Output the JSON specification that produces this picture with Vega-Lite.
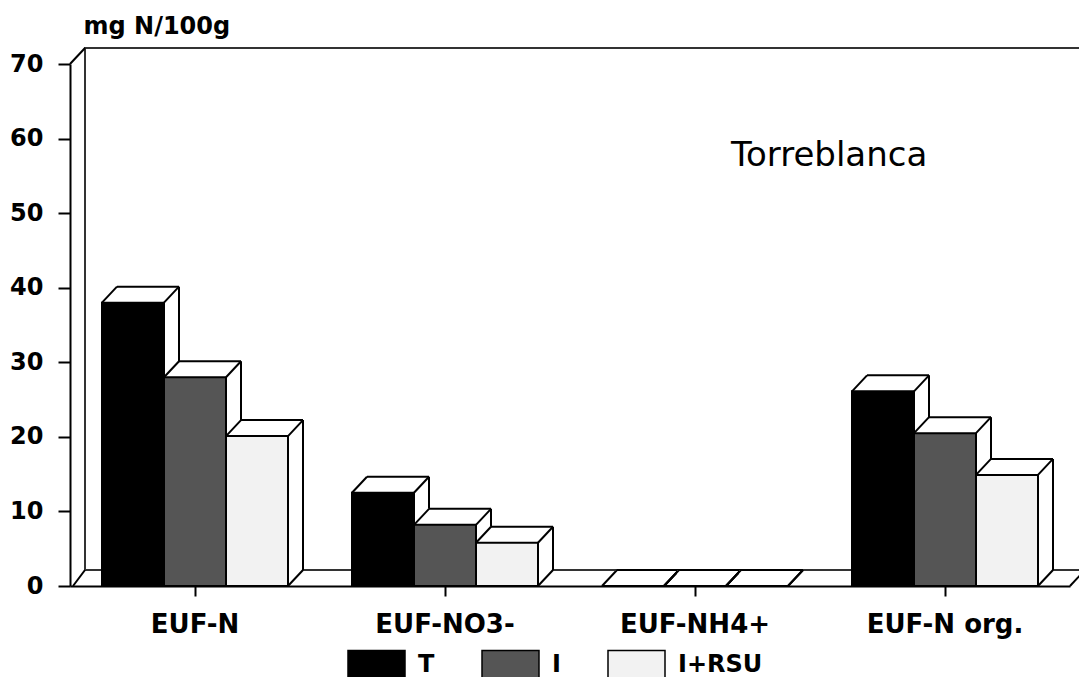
{
  "$schema": "https://vega.github.io/schema/vega-lite/v6.json",
  "width": 1000,
  "height": 522,
  "autosize": {"type": "none"},
  "padding": {"left": 70, "top": 64, "right": 9, "bottom": 91},
  "background": "white",
  "config": {"view": {"stroke": null}, "font": "DejaVu Sans"},
  "datasets": {
    "bars": [
      {"cat": "EUF-N", "s": "T", "v": 38},
      {"cat": "EUF-N", "s": "I", "v": 28},
      {"cat": "EUF-N", "s": "I+RSU", "v": 20.1},
      {"cat": "EUF-NO3-", "s": "T", "v": 12.5},
      {"cat": "EUF-NO3-", "s": "I", "v": 8.2},
      {"cat": "EUF-NO3-", "s": "I+RSU", "v": 5.8},
      {"cat": "EUF-NH4+", "s": "T", "v": 0},
      {"cat": "EUF-NH4+", "s": "I", "v": 0},
      {"cat": "EUF-NH4+", "s": "I+RSU", "v": 0},
      {"cat": "EUF-N org.", "s": "T", "v": 26.1},
      {"cat": "EUF-N org.", "s": "I", "v": 20.5},
      {"cat": "EUF-N org.", "s": "I+RSU", "v": 14.9}
    ],
    "one": [{"label": "Torreblanca"}]
  },
  "layer": [
    {
      "data": {"name": "one"},
      "mark": {"type": "rect", "fill": "white", "stroke": "#333333", "strokeWidth": 2, "xOffset": -110, "x2Offset": 140, "yOffset": -16, "y2Offset": -16},
      "encoding": {
        "x": {"datum": "EUF-N", "type": "nominal", "bandPosition": 0.5},
        "x2": {"datum": "EUF-N org."},
        "y": {"datum": 70, "type": "quantitative"},
        "y2": {"datum": 0}
      }
    },
    {
      "data": {"name": "one"},
      "mark": {"type": "rule", "stroke": "black", "strokeWidth": 2, "xOffset": -122, "x2Offset": -110, "y2Offset": -16},
      "encoding": {
        "x": {"datum": "EUF-N", "type": "nominal"},
        "x2": {"datum": "EUF-N"},
        "y": {"datum": 0, "type": "quantitative"},
        "y2": {"datum": 0}
      }
    },
    {
      "data": {"name": "one"},
      "mark": {"type": "rule", "stroke": "black", "strokeWidth": 2, "xOffset": -125, "x2Offset": -110, "y2Offset": -16},
      "encoding": {
        "x": {"datum": "EUF-N", "type": "nominal"},
        "x2": {"datum": "EUF-N"},
        "y": {"datum": 70, "type": "quantitative"},
        "y2": {"datum": 70}
      }
    },
    {
      "data": {"name": "one"},
      "mark": {"type": "rule", "stroke": "black", "strokeWidth": 2, "xOffset": 125, "x2Offset": 140, "y2Offset": -16},
      "encoding": {
        "x": {"datum": "EUF-N org.", "type": "nominal"},
        "x2": {"datum": "EUF-N org."},
        "y": {"datum": 0, "type": "quantitative"},
        "y2": {"datum": 0}
      }
    },
    {
      "data": {"name": "bars"},
      "encoding": {
        "x": {
          "field": "cat", "type": "nominal",
          "scale": {"domain": ["EUF-N", "EUF-NO3-", "EUF-NH4+", "EUF-N org."], "paddingInner": 0, "paddingOuter": 0},
          "axis": {"title": null, "labelAngle": 0, "labelAlign": "center", "labelBaseline": "top", "labelFont": "DejaVu Sans", "labelFontSize": 26, "labelFontWeight": "bold", "labelColor": "black", "labelPadding": 15, "tickSize": 10, "tickWidth": 2, "tickColor": "black", "domainColor": "black", "domainWidth": 2, "grid": false}
        },
        "y": {
          "field": "v", "type": "quantitative", "stack": null,
          "scale": {"domain": [0, 70], "nice": false},
          "axis": {"values": [0, 10, 20, 30, 40, 50, 60, 70], "grid": false, "tickSize": 12, "tickWidth": 2, "tickColor": "black", "domainColor": "black", "domainWidth": 2, "labelFont": "DejaVu Sans", "labelFontSize": 24, "labelFontWeight": "bold", "labelColor": "black", "labelPadding": 15, "title": "mg N/100g", "titleAngle": 0, "titleX": 13, "titleY": -31, "titleAlign": "left", "titleBaseline": "alphabetic", "titleFont": "DejaVu Sans", "titleFontSize": 24, "titleFontWeight": "bold", "titleColor": "black"}
        }
      },
      "layer": [
        {"transform": [{"filter": "datum.s === 'T'"}], "mark": {"type": "bar", "width": 64, "xOffset": -48, "yOffset": -16, "y2Offset": -15, "fill": "white"}},
        {"transform": [{"filter": "datum.s === 'T'"}], "mark": {"type": "bar", "width": 62, "xOffset": -62, "stroke": "black", "strokeWidth": 2},
          "encoding": {"fill": {"field": "s", "type": "nominal",
            "scale": {"domain": ["T", "I", "I+RSU"], "range": ["#000000", "#555555", "#f2f2f2"]},
            "legend": {"title": null, "orient": "none", "legendX": 277, "legendY": 571, "direction": "horizontal", "symbolType": "M-1,-0.5H1V0.5H-1Z", "symbolSize": 3249, "symbolStrokeColor": "black", "symbolStrokeWidth": 1.5, "labelFont": "DejaVu Sans", "labelFontSize": 24, "labelFontWeight": "bold", "labelColor": "black", "labelOffset": 12, "columnPadding": 44, "padding": 0}}}},
        {"transform": [{"filter": "datum.s === 'T'"}], "mark": {"type": "rule", "stroke": "black", "strokeWidth": 2, "xOffset": -78, "x2Offset": -16, "yOffset": -16}, "encoding": {"x2": {"field": "cat"}}},
        {"transform": [{"filter": "datum.s === 'T'"}], "mark": {"type": "rule", "stroke": "black", "strokeWidth": 2, "xOffset": -16, "yOffset": -16, "y2Offset": -16}, "encoding": {"y2": {"datum": 0}}},
        {"transform": [{"filter": "datum.s === 'T'"}], "mark": {"type": "rule", "stroke": "black", "strokeWidth": 2, "xOffset": -93, "x2Offset": -78, "y2Offset": -16}, "encoding": {"x2": {"field": "cat"}, "y2": {"field": "v"}}},
        {"transform": [{"filter": "datum.s === 'T'"}], "mark": {"type": "rule", "stroke": "black", "strokeWidth": 2, "xOffset": -31, "x2Offset": -16, "y2Offset": -16}, "encoding": {"x2": {"field": "cat"}, "y2": {"field": "v"}}},
        {"transform": [{"filter": "datum.s === 'T'"}], "mark": {"type": "rule", "stroke": "black", "strokeWidth": 2, "xOffset": -31, "x2Offset": -16, "y2Offset": -16}, "encoding": {"x2": {"field": "cat"}, "y": {"datum": 0, "type": "quantitative"}, "y2": {"datum": 0}}},

        {"transform": [{"filter": "datum.s === 'I'"}], "mark": {"type": "bar", "width": 64, "xOffset": 14, "yOffset": -16, "y2Offset": -15, "fill": "white"}},
        {"transform": [{"filter": "datum.s === 'I'"}], "mark": {"type": "bar", "width": 62, "xOffset": 0, "stroke": "black", "strokeWidth": 2},
          "encoding": {"fill": {"field": "s", "type": "nominal"}}},
        {"transform": [{"filter": "datum.s === 'I'"}], "mark": {"type": "rule", "stroke": "black", "strokeWidth": 2, "xOffset": -16, "x2Offset": 46, "yOffset": -16}, "encoding": {"x2": {"field": "cat"}}},
        {"transform": [{"filter": "datum.s === 'I'"}], "mark": {"type": "rule", "stroke": "black", "strokeWidth": 2, "xOffset": 46, "yOffset": -16, "y2Offset": -16}, "encoding": {"y2": {"datum": 0}}},
        {"transform": [{"filter": "datum.s === 'I'"}], "mark": {"type": "rule", "stroke": "black", "strokeWidth": 2, "xOffset": -31, "x2Offset": -16, "y2Offset": -16}, "encoding": {"x2": {"field": "cat"}, "y2": {"field": "v"}}},
        {"transform": [{"filter": "datum.s === 'I'"}], "mark": {"type": "rule", "stroke": "black", "strokeWidth": 2, "xOffset": 31, "x2Offset": 46, "y2Offset": -16}, "encoding": {"x2": {"field": "cat"}, "y2": {"field": "v"}}},
        {"transform": [{"filter": "datum.s === 'I'"}], "mark": {"type": "rule", "stroke": "black", "strokeWidth": 2, "xOffset": 31, "x2Offset": 46, "y2Offset": -16}, "encoding": {"x2": {"field": "cat"}, "y": {"datum": 0, "type": "quantitative"}, "y2": {"datum": 0}}},

        {"transform": [{"filter": "datum.s === 'I+RSU'"}], "mark": {"type": "bar", "width": 64, "xOffset": 76, "yOffset": -16, "y2Offset": -15, "fill": "white"}},
        {"transform": [{"filter": "datum.s === 'I+RSU'"}], "mark": {"type": "bar", "width": 62, "xOffset": 62, "stroke": "black", "strokeWidth": 2},
          "encoding": {"fill": {"field": "s", "type": "nominal"}}},
        {"transform": [{"filter": "datum.s === 'I+RSU'"}], "mark": {"type": "rule", "stroke": "black", "strokeWidth": 2, "xOffset": 46, "x2Offset": 108, "yOffset": -16}, "encoding": {"x2": {"field": "cat"}}},
        {"transform": [{"filter": "datum.s === 'I+RSU'"}], "mark": {"type": "rule", "stroke": "black", "strokeWidth": 2, "xOffset": 108, "yOffset": -16, "y2Offset": -16}, "encoding": {"y2": {"datum": 0}}},
        {"transform": [{"filter": "datum.s === 'I+RSU'"}], "mark": {"type": "rule", "stroke": "black", "strokeWidth": 2, "xOffset": 31, "x2Offset": 46, "y2Offset": -16}, "encoding": {"x2": {"field": "cat"}, "y2": {"field": "v"}}},
        {"transform": [{"filter": "datum.s === 'I+RSU'"}], "mark": {"type": "rule", "stroke": "black", "strokeWidth": 2, "xOffset": 93, "x2Offset": 108, "y2Offset": -16}, "encoding": {"x2": {"field": "cat"}, "y2": {"field": "v"}}},
        {"transform": [{"filter": "datum.s === 'I+RSU'"}], "mark": {"type": "rule", "stroke": "black", "strokeWidth": 2, "xOffset": 93, "x2Offset": 108, "y2Offset": -16}, "encoding": {"x2": {"field": "cat"}, "y": {"datum": 0, "type": "quantitative"}, "y2": {"datum": 0}}}
      ]
    },
    {
      "data": {"name": "one"},
      "mark": {"type": "text", "align": "left", "baseline": "alphabetic", "font": "DejaVu Sans", "fontSize": 34, "color": "black", "xOffset": 36},
      "encoding": {
        "x": {"datum": "EUF-NH4+", "type": "nominal"},
        "y": {"datum": 56.3, "type": "quantitative"},
        "text": {"field": "label"}
      }
    }
  ]
}
